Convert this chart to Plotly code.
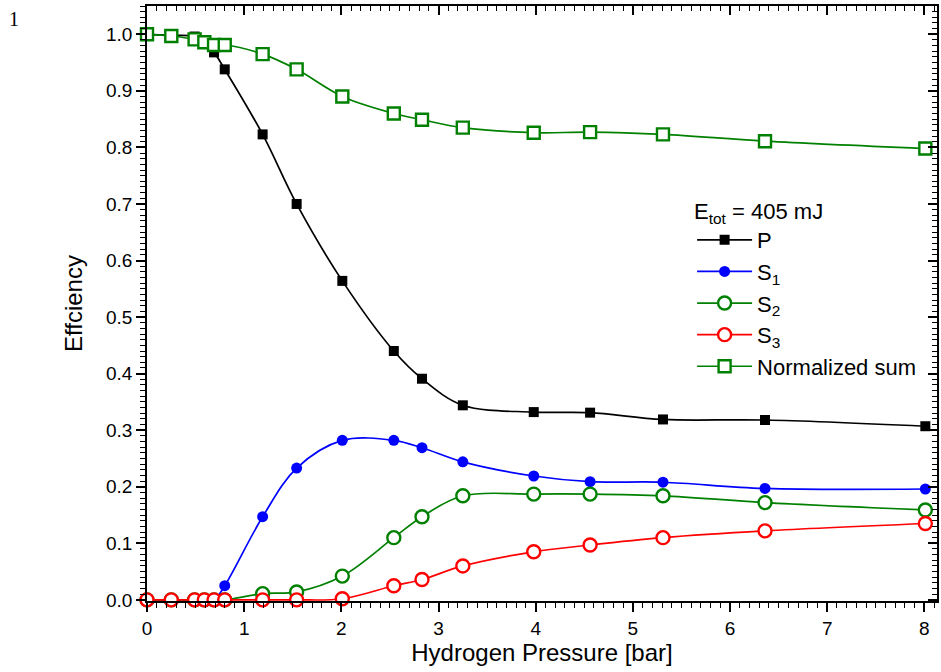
import plotly.graph_objects as go

# Hydrogen pressure [bar] at which each efficiency was measured
pressure = [0, 0.25, 0.49, 0.59, 0.69, 0.80, 1.19, 1.54, 2.01, 2.54, 2.83,
            3.25, 3.98, 4.56, 5.31, 6.36, 8.01]

# Efficiency of the pump (P) and of the Stokes orders S1..S3
eff_p = [1.0, 0.998, 0.996, 0.985, 0.968, 0.938, 0.823, 0.700, 0.564, 0.440,
         0.391, 0.344, 0.332, 0.331, 0.319, 0.318, 0.307]
eff_s1 = [0, 0, 0, 0, 0, 0.025, 0.147, 0.233, 0.282, 0.282, 0.269, 0.244,
          0.219, 0.209, 0.208, 0.197, 0.196]
eff_s2 = [0, 0, 0, 0, 0, 0, 0.011, 0.014, 0.042, 0.110, 0.147, 0.184, 0.187,
          0.187, 0.184, 0.172, 0.159]
eff_s3 = [0, 0, 0, 0, 0, 0, 0, 0, 0.002, 0.025, 0.036, 0.060, 0.085, 0.097,
          0.110, 0.122, 0.135]
norm_sum = [1.0, 0.997, 0.991, 0.986, 0.981, 0.981, 0.965, 0.938, 0.890,
            0.860, 0.849, 0.835, 0.826, 0.827, 0.823, 0.811, 0.798]

x_ticks = [0, 1, 2, 3, 4, 5, 6, 7, 8]
y_ticks = [0.0, 0.1, 0.2, 0.3, 0.4, 0.5, 0.6, 0.7, 0.8, 0.9, 1.0]

FONT = "Liberation Sans, Arial, sans-serif"
X_RANGE = [0, 8.13]
Y_RANGE = [-0.002, 1.05]

fig = go.Figure()

series = [
    ("P", eff_p, "#000000", dict(symbol="square", size=10, color="#000000")),
    ("S<sub>1</sub>", eff_s1, "#0000ff", dict(symbol="circle", size=11, color="#0000ff")),
    ("S<sub>2</sub>", eff_s2, "#008000",
     dict(symbol="circle", size=13, color="white", line=dict(color="#008000", width=2.4))),
    ("S<sub>3</sub>", eff_s3, "#ff0000",
     dict(symbol="circle", size=13, color="white", line=dict(color="#ff0000", width=2.4))),
    ("Normalized sum", norm_sum, "#008000",
     dict(symbol="square", size=12, color="white", line=dict(color="#008000", width=2.4))),
]

for name, vals, col, mk in series:
    fig.add_trace(go.Scatter(
        x=pressure, y=vals, name=name, mode="lines+markers",
        line=dict(color=col, width=1.7, shape="spline", smoothing=1.0),
        marker=mk, cliponaxis=False,
    ))

# empty trace that anchors the mirrored top/right axes
fig.add_trace(go.Scatter(x=[], y=[], xaxis="x2", yaxis="y2", showlegend=False,
                         hoverinfo="skip"))

axis_common = dict(showline=True, linecolor="black", linewidth=1.8,
                   showgrid=False, zeroline=False, tickcolor="black",
                   tickwidth=1.6)

fig.update_layout(
    width=941, height=672,
    margin=dict(l=147, r=4, t=6, b=71),
    paper_bgcolor="white", plot_bgcolor="white",
    font=dict(family=FONT, size=19, color="black"),
    showlegend=True,
    legend=dict(
        x=0.69, y=0.69, xanchor="left", yanchor="top",
        bgcolor="rgba(0,0,0,0)", borderwidth=0,
        font=dict(family=FONT, size=22),
        title=dict(text="E<sub>tot</sub> = 405 mJ", font=dict(family=FONT, size=22)),
        itemwidth=55, tracegroupgap=0,
    ),
    xaxis=dict(
        range=X_RANGE, tickvals=x_ticks, ticktext=[str(v) for v in x_ticks],
        ticks="outside", ticklen=9,
        minor=dict(dtick=0.1, ticks="outside", ticklen=5, tickcolor="black",
                   tickwidth=1.3),
        title=dict(text="Hydrogen Pressure [bar]", font=dict(size=24), standoff=6),
        tickfont=dict(size=19),
        **axis_common,
    ),
    yaxis=dict(
        range=Y_RANGE, tickvals=y_ticks, ticktext=[f"{v:.1f}" for v in y_ticks],
        ticks="outside", ticklen=9,
        minor=dict(dtick=0.01, tick0=0, ticks="outside", ticklen=5,
                   tickcolor="black", tickwidth=1.3),
        title=dict(text="Effciency", font=dict(size=24), standoff=16),
        tickfont=dict(size=19),
        **axis_common,
    ),
    xaxis2=dict(
        range=X_RANGE, overlaying="x", side="top", anchor="y",
        tickvals=x_ticks, showticklabels=False, ticks="inside", ticklen=9,
        minor=dict(dtick=0.1, ticks="inside", ticklen=5, tickcolor="black",
                   tickwidth=1.3),
        **axis_common,
    ),
    yaxis2=dict(
        range=Y_RANGE, overlaying="y", side="right", anchor="x",
        tickvals=y_ticks, showticklabels=False, ticks="inside", ticklen=9,
        minor=dict(dtick=0.01, tick0=0, ticks="inside", ticklen=5,
                   tickcolor="black", tickwidth=1.3),
        **axis_common,
    ),
)

# panel number in the corner
fig.add_annotation(
    text="1", xref="paper", yref="paper", showarrow=False,
    x=(14 - 147) / 790, y=(601 - 19) / 595, xanchor="center", yanchor="middle",
    font=dict(family="Liberation Serif, Times New Roman, serif", size=20),
)

fig.write_html("out.html")
